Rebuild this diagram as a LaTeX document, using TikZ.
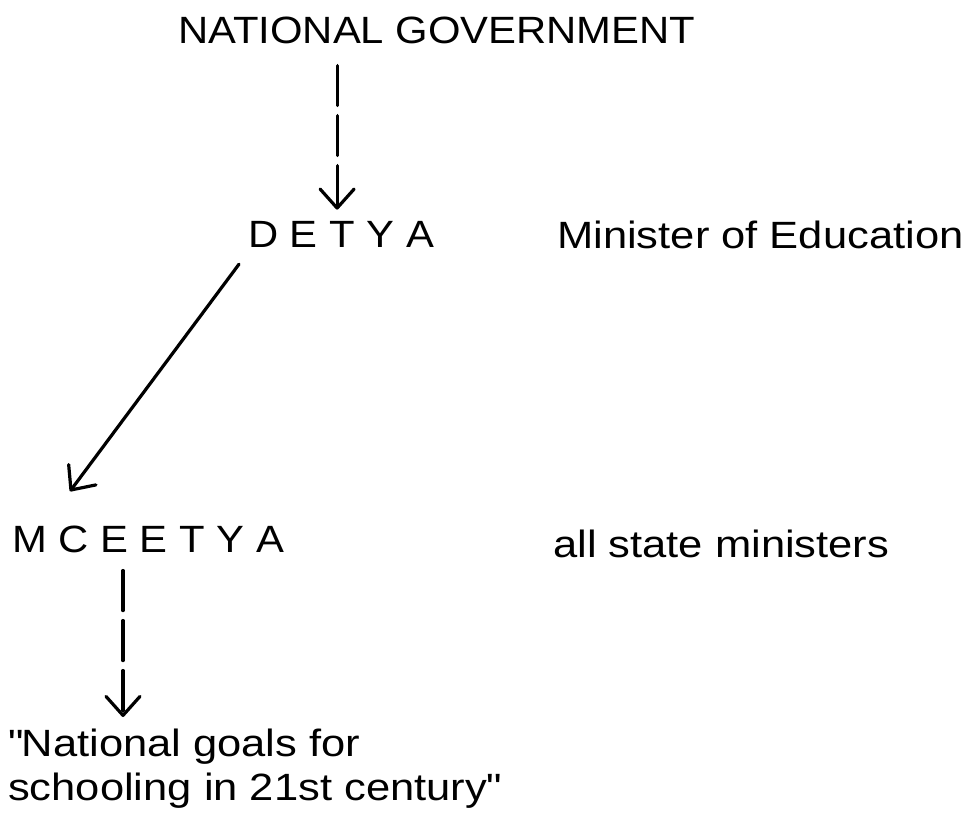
\documentclass[tikz,border=0pt]{standalone}
\usepackage{fontspec}
\setmainfont{Liberation Sans}[FakeStretch=1.1]
\newfontfamily\widefont{Liberation Sans}[FakeStretch=1.145]
\usetikzlibrary{arrows.meta,calc}
\begin{document}
\begin{tikzpicture}[x=1pt,y=-1pt,
  lbl/.style={inner sep=0pt, anchor=base west, font=\fontsize{38}{44}\selectfont},
  wlbl/.style={lbl, font=\widefont\fontsize{38}{44}\selectfont},
  conn/.style={line width=3.2pt, line cap=round, -{Straight Barb[length=19pt,width=34pt,line cap=round,line join=round]}},
  dashconn/.style={conn, dash pattern=on 40pt off 10pt}]
\useasboundingbox (0,0) rectangle (966,817);
\node[lbl] (ng) at (178,43) {NATIONAL GOVERNMENT};
\node[lbl] (detya) at (248,247) {D E T Y A};
\node[wlbl] (minister) at (557,248) {Minister of Education};
\node[lbl] (mceetya) at (12,552) {M C E E T Y A};
\node[wlbl] (allstate) at (553,557) {all state ministers};
\node[inner sep=0pt, anchor=north west, align=left, font=\widefont\fontsize{38}{44}\selectfont] (goals) at (8,729) {\textquotedbl National goals for\\schooling in 21st century\textquotedbl};
\coordinate (t1) at ([xshift=-4pt]detya.north);
\draw[dashconn] ($(ng.south -| t1)+(0,22)$) -- ($(t1)+(0,-11)$);
\draw[conn] ($(detya.south west)+(-9,17)$) -- ($(mceetya.north west)+(58,-34)$);
\draw[dashconn] ($(mceetya.south west)+(111,18)$) -- ($(goals.north west)+(115,-12)$);
\end{tikzpicture}
\end{document}
